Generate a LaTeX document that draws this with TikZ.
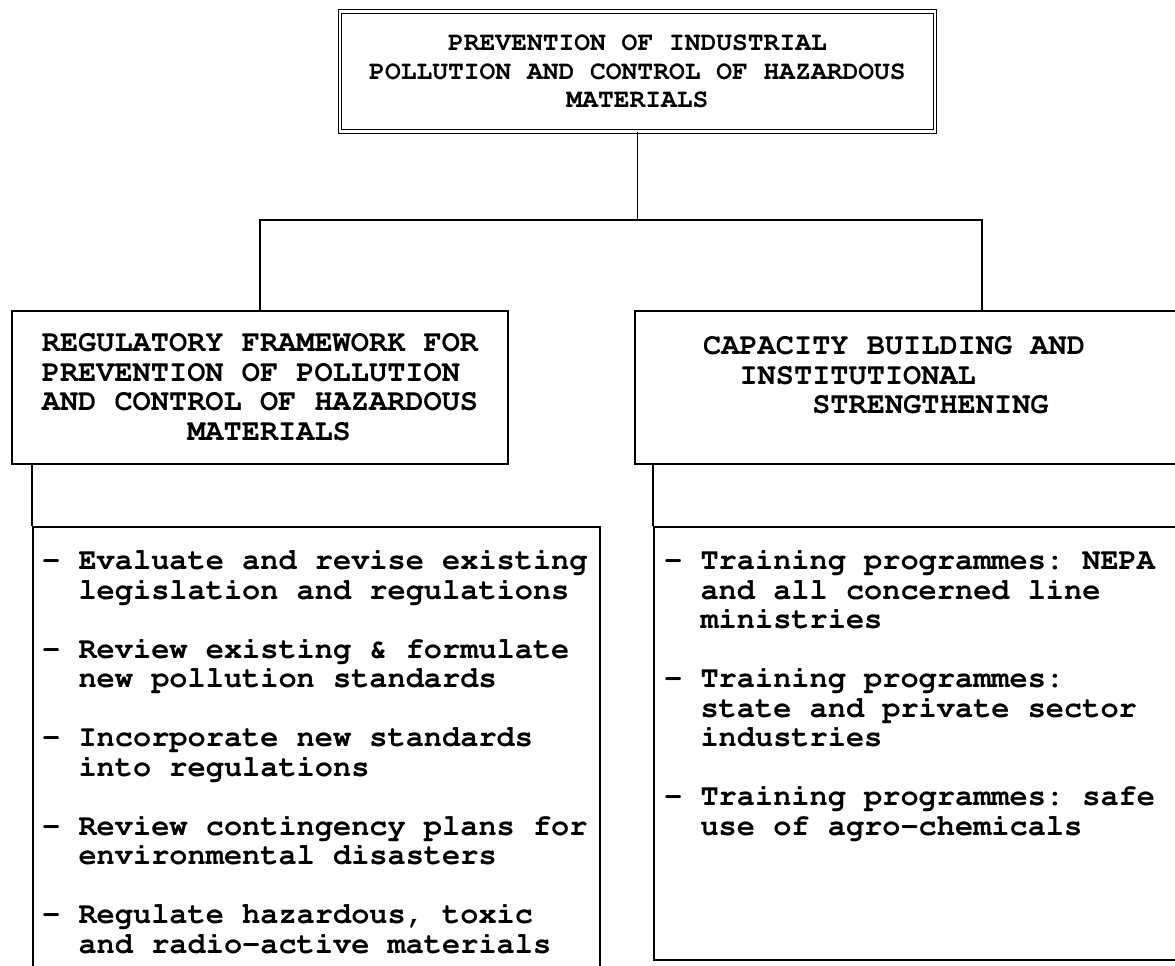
\documentclass[tikz,border=0pt]{standalone}
\usepackage[T1]{fontenc}
\usepackage{courier}
\usepackage{tikz}
\newcommand{\colind}[1]{\hspace*{#1em}}
\frenchspacing

\begin{document}
\begin{tikzpicture}[x=1pt,y=1pt,
	box/.style={draw,line width=1.6pt,inner sep=0pt},
	wire/.style={line width=1.6pt},
	toptype/.style={font=\ttfamily\bfseries\fontsize{26.3}{28.5}\selectfont},
	type/.style={font=\ttfamily\bfseries\fontsize{30.3}{29.5}\selectfont},
	items/.style={type,align=left,anchor=base west,inner sep=0pt}]
	\useasboundingbox (0,0) rectangle (1175,966);
	\clip (0,0) rectangle (1175,966);
	
	\node[box,double,double distance=2.2pt,line width=1.3pt,minimum width=595pt,minimum height=120pt,align=center,toptype] (top) at (637.5,894.5) {PREVENTION OF INDUSTRIAL\\POLLUTION AND CONTROL OF HAZARDOUS\\MATERIALS};
	\coordinate (bar) at (0,746);
	
	\node[box,minimum width=496pt,minimum height=153pt,align=left,type] (reg) at (260,578.5) {REGULATORY FRAMEWORK FOR\\PREVENTION OF POLLUTION\\AND CONTROL OF HAZARDOUS\\\colind{4.8}MATERIALS};
	\node[box,minimum width=694pt,minimum height=153pt] (cap) at (982,578.5) {};
	\node[items] (captext) at (703,552) {CAPACITY BUILDING AND\\\colind{1.2}INSTITUTIONAL\\\colind{3.6}STRENGTHENING};
	
	\node[box,anchor=north west,minimum width=567pt,minimum height=520pt] (reglist) at (32,440) {};
	\node[box,anchor=north west,minimum width=600pt,minimum height=433pt] (caplist) at (653,440) {};
	
	\node[items] (regitems) at (42,12.5) {- Evaluate and revise existing\\\colind{1.2}legislation and regulations\\[29.5pt]%
		- Review existing \& formulate\\\colind{1.2}new pollution standards\\[29.5pt]%
		- Incorporate new standards\\\colind{1.2}into regulations\\[29.5pt]%
		- Review contingency plans for\\\colind{1.2}environmental disasters\\[29.5pt]%
		- Regulate hazardous, toxic\\\colind{1.2}and radio-active materials};
	\node[items] (capitems) at (664,130.5) {- Training programmes: NEPA\\\colind{1.2}and all concerned line\\\colind{1.2}ministries\\[29.5pt]%
		- Training programmes:\\\colind{1.2}state and private sector\\\colind{1.2}industries\\[29.5pt]%
		- Training programmes: safe\\\colind{1.2}use of agro-chemicals};
	
	\draw[wire] (top.south) -- (top.south |- bar);
	\draw[wire] (reg.north) |- (cap.north |- bar) -- (cap.north);
	\draw[wire] (reglist.north west) -- (reglist.north west |- reg.south);
	\draw[wire] (caplist.north west) -- (caplist.north west |- cap.south);
\end{tikzpicture}
\end{document}
